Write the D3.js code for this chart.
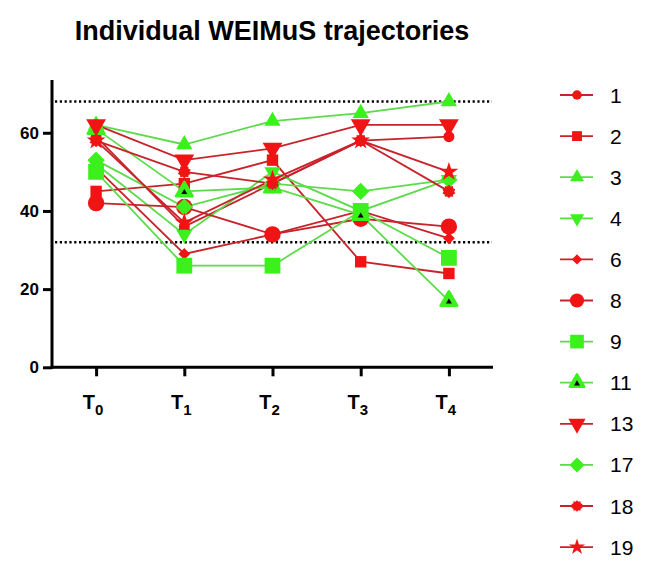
<!DOCTYPE html>
<html><head><meta charset="utf-8">
<script src="https://cdn.jsdelivr.net/npm/d3@7"></script>
<style>body{margin:0;background:#fff}svg{display:block;font-family:"Liberation Sans",Arial,sans-serif}</style>
</head><body><div id="c"></div>
<script>
const timepoints = ["0","1","2","3","4"];
const yTicks = [0,20,40,60];
const refLines = [68,32];
const seriesNames = ["1","2","3","4","6","8","9","11","13","17","18","19"];
const s1  = [59,36,47,58,59];
const s2  = [45,47,53,27,24];
const s3  = [62,57,63,65,68];
const s4  = [52,34,50,40,48];
const s6  = [51,29,34,40,33];
const s8  = [42,41,34,38,36];
const s9  = [50,26,26,40,28];
const s11 = [61,45,46,39,17];
const s13 = [62,53,56,62,62];
const s17 = [53,41,47,45,48];
const s18 = [58,50,47,58,45];
const s19 = [58,37,48,58,50];
const seriesValues = [s1,s2,s3,s4,s6,s8,s9,s11,s13,s17,s18,s19];
const groups = ["r","r","g","g","r","r","g","g","r","g","r","r"];
const shapes = ["circle","square","triangle","down","diamond","circle","square","triangle2","down","diamond","burst","star"];
const sizes = [95,130,115,115,70,210,250,120,170,150,130,110];

const RED_M="#f01414", RED_L="#c8222a", GRN_M="#3cf01e", GRN_L="#5cdc4a";
const W=649,H=568;
const svg=d3.select("#c").append("svg").attr("width",W).attr("height",H);

const x=d3.scalePoint().domain(timepoints).range([52,493]).padding(0.5);
const y=d3.scaleLinear().domain([0,73.5]).range([367.3,80]);

svg.append("text").attr("x",272).attr("y",40).attr("text-anchor","middle")
  .attr("font-size",27).attr("font-weight","bold").attr("fill","#000").text("Individual WEIMuS trajectories");

// axes
const yAx=svg.append("g").attr("transform","translate(52,0)")
  .call(d3.axisLeft(y).tickValues(yTicks).tickSize(9).tickPadding(4).tickFormat(d3.format("d")));
yAx.select(".domain").remove();
yAx.selectAll("line").attr("stroke","#000").attr("stroke-width",3);
yAx.selectAll("text").attr("font-size",17).attr("font-weight","bold").attr("fill","#000")
  .attr("font-family","Liberation Sans, Arial, sans-serif");
const xAx=svg.append("g").attr("transform","translate(0,367.3)")
  .call(d3.axisBottom(x).tickSize(9).tickFormat(""));
xAx.select(".domain").remove();
xAx.selectAll("line").attr("stroke","#000").attr("stroke-width",3);
svg.append("line").attr("x1",52).attr("x2",52).attr("y1",y(73.5)).attr("y2",y(0)+1.5).attr("stroke","#000").attr("stroke-width",3);
svg.append("line").attr("x1",50.5).attr("x2",493).attr("y1",y(0)).attr("y2",y(0)).attr("stroke","#000").attr("stroke-width",3);
// x labels with subscripts
timepoints.forEach(t=>{
  const tx=svg.append("text").attr("x",x(t)-3).attr("y",409).attr("text-anchor","middle")
    .attr("font-size",20).attr("font-weight","bold").attr("fill","#000");
  tx.append("tspan").text("T");
  tx.append("tspan").attr("dy",6).attr("font-size",15).text(t);
});

// reference dotted lines
refLines.forEach(v=>{
  svg.append("line").attr("x1",55).attr("x2",492).attr("y1",y(v)).attr("y2",y(v))
    .attr("stroke","#000").attr("stroke-width",2.6).attr("stroke-dasharray","2.2,2.6");
});

function burst(size){
  const r=Math.sqrt(size/Math.PI)*1.05, ri=r*0.78, n=10, pts=[];
  for(let i=0;i<2*n;i++){const a=Math.PI*i/n;const rr=i%2?ri:r;pts.push([rr*Math.sin(a),-rr*Math.cos(a)]);}
  return "M"+pts.map(p=>p.join(",")).join("L")+"Z";
}
function symPath(shape,size){
  switch(shape){
    case "circle": return d3.symbol(d3.symbolCircle,size)();
    case "square": case "diamond": return d3.symbol(d3.symbolSquare,size)();
    case "triangle": case "triangle2": case "down": return d3.symbol(d3.symbolTriangle,size)();
    case "star": return d3.symbol(d3.symbolStar,size)();
    case "burst": return burst(size);
  }
}
function drawMarker(g,shape,size,col,cx,cy){
  const rot = shape==="down"?" rotate(180)":(shape==="diamond"?" rotate(45)":"");
  const p=g.append("path").attr("d",symPath(shape,size)).attr("fill",col)
    .attr("transform",`translate(${cx},${cy})`+rot);
  if(shape==="triangle2"){
    p.attr("stroke",col).attr("stroke-width",2.5).attr("stroke-linejoin","round");
    g.append("path").attr("d",d3.symbol(d3.symbolTriangle,15)()).attr("fill","#000")
      .attr("transform",`translate(${cx},${cy+1})`);
  }
}

const line=d3.line().x((d,i)=>x(timepoints[i])).y(d=>y(d));
const plot=svg.append("g");
seriesValues.forEach((vals,k)=>{
  plot.append("path").attr("d",line(vals)).attr("fill","none")
    .attr("stroke",groups[k]==="r"?RED_L:GRN_L).attr("stroke-width",1.8);
});
seriesValues.forEach((vals,k)=>{
  const col=groups[k]==="r"?RED_M:GRN_M;
  vals.forEach((v,i)=>drawMarker(plot,shapes[k],sizes[k],col,x(timepoints[i]),y(v)));
});

// legend
const lg=svg.append("g");
seriesNames.forEach((nm,k)=>{
  const ly=95+k*41.1;
  const col=groups[k]==="r"?RED_M:GRN_M;
  lg.append("line").attr("x1",560).attr("x2",593).attr("y1",ly).attr("y2",ly)
    .attr("stroke",groups[k]==="r"?RED_L:GRN_L).attr("stroke-width",1.8);
  drawMarker(lg,shapes[k],sizes[k]*0.75,col,577,ly);
  lg.append("text").attr("x",610).attr("y",ly+7.5).attr("font-size",21).attr("fill","#000").text(nm);
});
</script></body></html>
